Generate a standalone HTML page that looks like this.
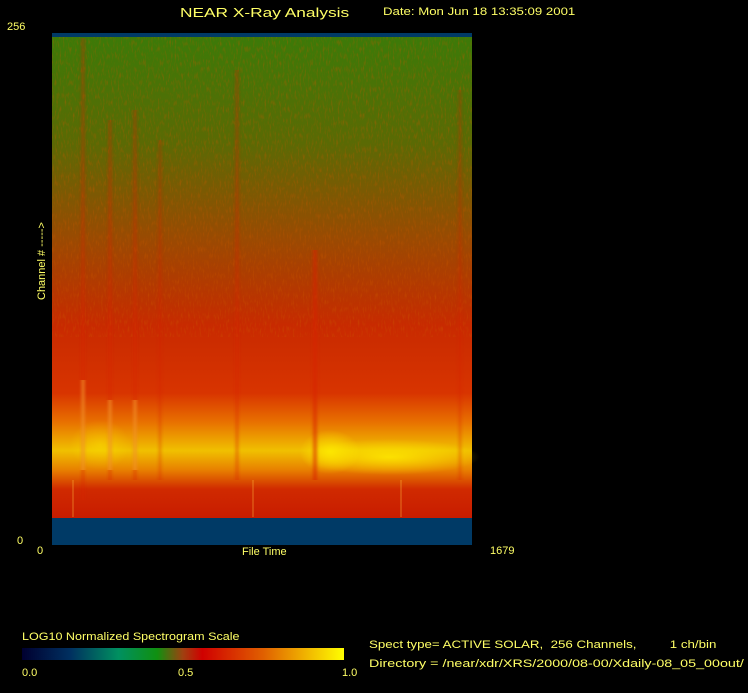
<!DOCTYPE html>
<html><head><style>
html,body{margin:0;padding:0;background:#000;}
body{width:748px;height:693px;position:relative;overflow:hidden;font-family:"Liberation Sans",sans-serif;color:#f0f060;}
.t{position:absolute;font-size:11px;white-space:nowrap;color:#ffff66;transform-origin:0 0;}
</style></head><body>
<svg width="748" height="693" style="position:absolute;left:0;top:0">
<defs>
<linearGradient id="v" x1="0" y1="0" x2="0" y2="1">
<stop offset="0" stop-color="#3c7a08"/>
<stop offset="0.22" stop-color="#5a6a04"/>
<stop offset="0.42" stop-color="#9a4a02"/>
<stop offset="0.6" stop-color="#c82a00"/>
<stop offset="0.74" stop-color="#d83400"/>
<stop offset="0.8" stop-color="#e87000"/>
<stop offset="0.86" stop-color="#f0c000"/>
<stop offset="0.9" stop-color="#e88000"/>
<stop offset="0.94" stop-color="#d02a00"/>
<stop offset="1" stop-color="#c81c00"/>
</linearGradient>
<linearGradient id="cb" x1="0" y1="0" x2="1" y2="0">
<stop offset="0" stop-color="#000030"/>
<stop offset="0.15" stop-color="#003060"/>
<stop offset="0.3" stop-color="#009060"/>
<stop offset="0.42" stop-color="#109010"/>
<stop offset="0.5" stop-color="#a04010"/>
<stop offset="0.56" stop-color="#d00000"/>
<stop offset="0.75" stop-color="#e06000"/>
<stop offset="1" stop-color="#ffff00"/>
</linearGradient>
<radialGradient id="y" cx="0.5" cy="0.5" r="0.5">
<stop offset="0" stop-color="#ffee00" stop-opacity="0.8"/>
<stop offset="1" stop-color="#ffee00" stop-opacity="0"/>
</radialGradient>
<filter id="n" x="0" y="0" width="1" height="1">
<feTurbulence type="fractalNoise" baseFrequency="0.6 0.15" numOctaves="2" seed="3"/>
<feColorMatrix values="0 0 0 0 0.6  0 0 0 0 0.1  0 0 0 0 0  0 0 0 1.4 -0.7"/>
</filter>
<filter id="b"><feGaussianBlur stdDeviation="1.5 0"/></filter>
</defs>
<rect x="52" y="33" width="420" height="512" fill="#003a66"/>
<rect x="52" y="37" width="420" height="481" fill="url(#v)"/>
<rect x="52" y="37" width="420" height="300" filter="url(#n)" opacity="0.7"/>
<ellipse cx="390" cy="457" rx="90" ry="18" fill="url(#y)"/>
<ellipse cx="330" cy="452" rx="30" ry="22" fill="url(#y)"/>
<ellipse cx="100" cy="445" rx="30" ry="25" fill="url(#y)" opacity="0.5"/>
<g stroke="#d82000" opacity="0.6" filter="url(#b)">
<line x1="83" y1="38" x2="83" y2="500" stroke-width="2"/>
<line x1="110" y1="120" x2="110" y2="480" stroke-width="2"/>
<line x1="135" y1="110" x2="135" y2="480" stroke-width="2"/>
<line x1="160" y1="140" x2="160" y2="480" stroke-width="1.5"/>
<line x1="237" y1="70" x2="237" y2="480" stroke-width="2"/>
<line x1="460" y1="90" x2="460" y2="480" stroke-width="1.5"/>
<line x1="315" y1="250" x2="315" y2="480" stroke-width="4"/>
</g>
<g stroke="#ffd040" opacity="0.5" filter="url(#b)">
<line x1="83" y1="380" x2="83" y2="470" stroke-width="3"/>
<line x1="110" y1="400" x2="110" y2="470" stroke-width="3"/>
<line x1="135" y1="400" x2="135" y2="470" stroke-width="3"/>
</g>
<g stroke="#ffc040" opacity="0.5">
<line x1="73" y1="480" x2="73" y2="517" stroke-width="1"/>
<line x1="253" y1="480" x2="253" y2="517" stroke-width="1"/>
<line x1="401" y1="480" x2="401" y2="517" stroke-width="1"/>
</g>
<rect x="22" y="648" width="322" height="12" fill="url(#cb)"/>
</svg>
<div class="t" style="left:180px;top:5px;font-size:13px;transform:scaleX(1.33)">NEAR X-Ray Analysis</div>
<div class="t" style="left:383px;top:6px;transform:scaleX(1.2)">Date: Mon Jun 18 13:35:09 2001</div>
<div class="t" style="left:7px;top:21px">256</div>
<div class="t" style="left:17px;top:535px">0</div>
<div class="t" style="left:37px;top:545px">0</div>
<div class="t" style="left:242px;top:546px">File Time</div>
<div class="t" style="left:490px;top:545px">1679</div>
<div class="t" style="left:36px;top:300px;transform:rotate(-90deg)">Channel # -----&gt;</div>
<div class="t" style="left:22px;top:631px;transform:scaleX(1.14)">LOG10 Normalized Spectrogram Scale</div>
<div class="t" style="left:22px;top:667px">0.0</div>
<div class="t" style="left:178px;top:667px">0.5</div>
<div class="t" style="left:342px;top:667px">1.0</div>
<div class="t" style="left:369px;top:639px;transform:scaleX(1.21)">Spect type= ACTIVE SOLAR,&nbsp; 256 Channels,&nbsp;&nbsp;&nbsp;&nbsp;&nbsp;&nbsp;&nbsp;&nbsp; 1 ch/bin</div>
<div class="t" style="left:369px;top:658px;transform:scaleX(1.3)">Directory = /near/xdr/XRS/2000/08-00/Xdaily-08_05_00out/</div>
</body></html>
